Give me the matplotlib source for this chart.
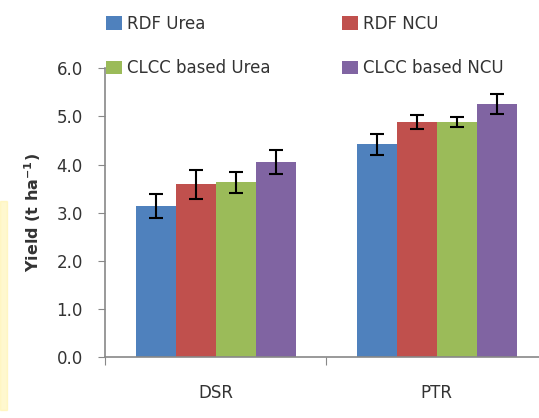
import numpy as np
import matplotlib
matplotlib.use('Agg')
import matplotlib.pyplot as plt
from matplotlib.patches import Rectangle

# data
categories = ['DSR', 'PTR']
series = ['RDF Urea', 'RDF NCU', 'CLCC based Urea', 'CLCC based NCU']
rdf_urea = [3.14, 4.42]
rdf_ncu = [3.59, 4.88]
clcc_urea = [3.63, 4.88]
clcc_ncu = [4.05, 5.26]
err_rdf_urea = [0.25, 0.22]
err_rdf_ncu = [0.30, 0.15]
err_clcc_urea = [0.21, 0.11]
err_clcc_ncu = [0.25, 0.21]
yticks = [0.0, 1.0, 2.0, 3.0, 4.0, 5.0, 6.0]

values = [rdf_urea, rdf_ncu, clcc_urea, clcc_ncu]
errors = [err_rdf_urea, err_rdf_ncu, err_clcc_urea, err_clcc_ncu]
colors = ['#4F81BD', '#C0504D', '#9BBB59', '#8064A2']
txt = '#333333'
grey = '#888888'

plt.rcParams['font.family'] = ['DejaVu Sans']
fig = plt.figure(figsize=(5.39, 4.18), dpi=100)

# faint yellow glow at the left edge of the original
fig.patches.append(Rectangle((0, 0.02), 0.013, 0.5, transform=fig.transFigure,
                             color='#FFF3A0', alpha=0.5, zorder=0))

ax = fig.add_axes([0.195, 0.145, 0.82, 0.692])
x = np.arange(len(categories)) + 0.5
w = 0.181
handles = []
for i in range(4):
    pos = x + (i - 1.5) * w
    b = ax.bar(pos, values[i], w, color=colors[i], zorder=2)
    ax.errorbar(pos, values[i], yerr=errors[i], fmt='none', ecolor='black',
                elinewidth=1.5, capsize=5, capthick=1.5, zorder=3)
    handles.append(b)

ax.set_xlim(0, 2)
ax.set_ylim(0, 6)
ax.set_yticks(yticks)
ax.set_yticklabels(['%.1f' % v for v in yticks], fontsize=12, color=txt)
ax.set_xticks([0, 1, 2])
ax.set_xticklabels([])
ax.set_xticks(x, minor=True)
ax.set_xticklabels(categories, minor=True, fontsize=12, color=txt)
ax.tick_params(axis='x', which='minor', length=0, pad=19)
ax.tick_params(axis='x', which='major', direction='out', length=6, color=grey)
ax.tick_params(axis='y', direction='out', length=5, color=grey, pad=11)
for s in ['top', 'right']:
    ax.spines[s].set_visible(False)
for s in ['left', 'bottom']:
    ax.spines[s].set_color(grey)
    ax.spines[s].set_linewidth(1.2)

ax.set_ylabel('Yield (t ha$^{\\mathregular{-1}}$)', fontsize=11.5, fontweight='bold',
              color=txt, labelpad=10)

# two legend columns, placed separately
for col, idx, xpos in [(0, [0, 2], 106 / 539), (1, [1, 3], 342 / 539)]:
    leg = fig.legend([handles[i] for i in idx], [series[i] for i in idx],
                     loc='upper left', bbox_to_anchor=(xpos, 0.965), frameon=False,
                     fontsize=12, handlelength=0.95, handleheight=0.85,
                     handletextpad=0.3, labelspacing=1.6, borderpad=0,
                     borderaxespad=0, labelcolor=txt)

fig.savefig('out.png', dpi=100)
